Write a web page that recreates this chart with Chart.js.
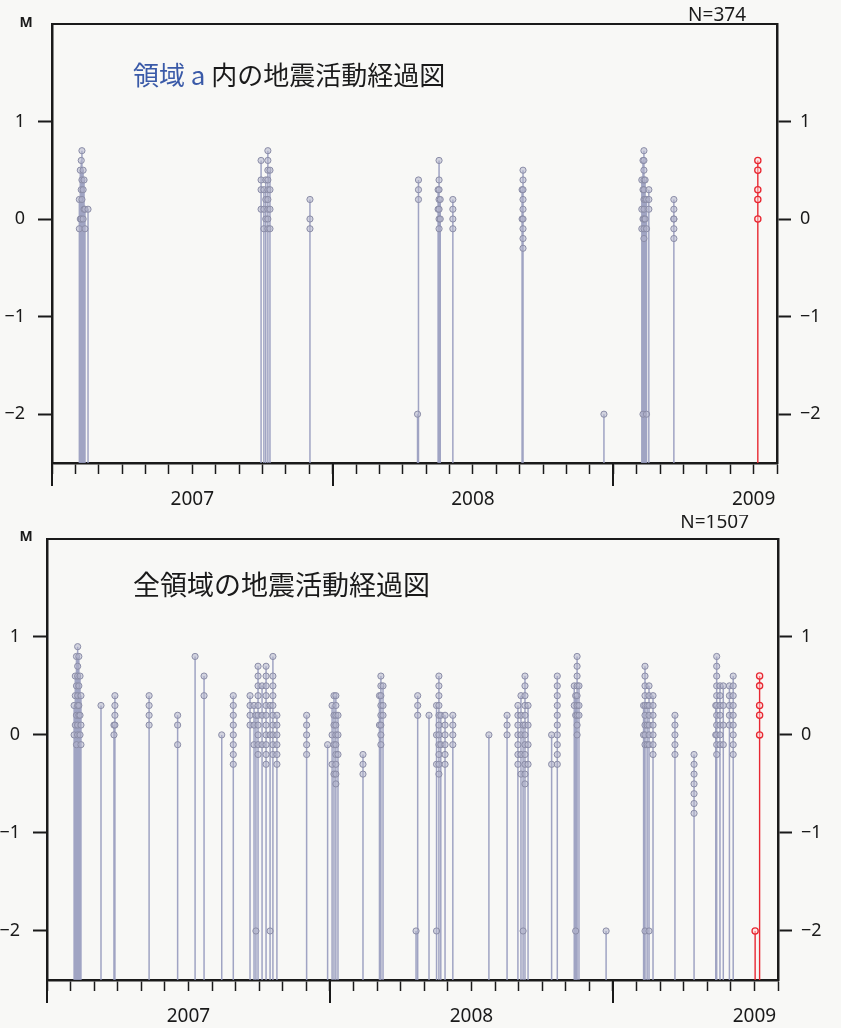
<!DOCTYPE html>
<html><head><meta charset="utf-8">
<script src="https://cdn.jsdelivr.net/npm/chart.js@4.4.0/dist/chart.umd.min.js"></script>
<style>
html,body{margin:0;padding:0;background:#f8f8f6;}
canvas{display:block;}
</style></head>
<body>
<canvas id="c1" width="841" height="515"></canvas>
<canvas id="c2" width="841" height="513"></canvas>
<script>
// x unit: months elapsed since 2007-01-01
const monthTicks = Array.from({length: 32}, (_, i) => i);
const yearStarts = [0, 12, 24];
const yearMid = [6, 18, 30];
const yearLabels = ['2007', '2008', '2009'];
const magTicks = [-2, -1, 0, 1];
const M_MIN = -2.5, M_MAX = 2;

// Panel 1: 領域 a (each stem time with the magnitudes of events drawn on it)
const topTimes = [1.17, 1.21, 1.25, 1.28, 1.33, 1.37, 1.41, 1.54,
  8.94, 9.06, 9.14, 9.23, 9.32, 11.03, 15.63, 15.67,
  16.51, 16.55, 16.60, 17.14, 20.10, 20.14, 23.60,
  25.22, 25.27, 25.31, 25.36, 25.42, 25.52, 26.59];
const topMags = [[0.2, -0.1], [0.5, 0.0], [0.6, 0.3, 0.0], [0.7, 0.4, 0.2], [0.5, 0.3, 0.0], [0.4, 0.1], [0.1, -0.1], [0.1],
  [0.6, 0.4, 0.3, 0.1], [0.3, 0.1, -0.1], [0.4, 0.2, 0.0], [0.7, 0.6, 0.5, 0.4, 0.3, 0.2, 0.1, 0.0, -0.1], [0.5, 0.3, 0.1, -0.1],
  [0.2, 0.0, -0.1], [-2.0], [0.4, 0.3, 0.2],
  [0.3, 0.1], [0.6, 0.4, 0.3, 0.2, 0.1, 0.0, -0.1], [0.2, 0.0], [0.2, 0.1, 0.0, -0.1],
  [0.3, 0.0], [0.5, 0.4, 0.3, 0.2, 0.1, 0.0, -0.1, -0.2, -0.3], [-2.0],
  [0.4, 0.1, -0.1], [0.6, 0.3, 0.0, -2.0], [0.7, 0.6, 0.5, 0.4, 0.3, 0.2, 0.1, 0.0, -0.1, -0.2], [0.4, 0.2, 0.0],
  [0.2, -0.1, -2.0], [0.3, 0.2, 0.1], [0.2, 0.1, 0.0, 0.0, -0.1, -0.2]];
const topRecentTimes = [30.18];
const topRecentMags = [[0.6, 0.5, 0.3, 0.2, 0.0]];

// Panel 2: 全領域
const allTimes = [1.15, 1.20, 1.25, 1.30, 1.35, 1.40, 1.44, 2.29, 2.84, 2.88, 4.33, 5.54, 6.28, 6.66, 7.41, 7.90, 8.61,
  8.78, 8.86, 8.95, 9.12, 9.29, 9.46, 9.58, 9.75, 11.01, 11.90, 12.09, 12.17, 12.25, 12.34, 13.40,
  14.10, 14.16, 14.25, 15.65, 15.72, 16.20, 16.52, 16.62, 16.70, 16.88, 17.21, 18.74, 19.51,
  19.97, 20.10, 20.19, 20.27, 20.40, 21.40, 21.64, 22.36, 22.42, 22.48, 22.56, 23.71,
  25.30, 25.36, 25.45, 25.53, 25.70, 26.63, 27.44, 28.36, 28.40, 28.54, 28.68, 28.94, 29.10];
const allMags = [[0.3, 0.0], [0.6, 0.4, 0.1], [0.8, 0.5, 0.2, -0.1], [0.9, 0.7, 0.6, 0.4, 0.3, 0.1, 0.0], [0.8, 0.5, 0.3, 0.2],
  [0.6, 0.2, 0.0], [0.4, 0.1, -0.1], [0.3], [0.1, 0.0], [0.4, 0.3, 0.2, 0.1], [0.4, 0.3, 0.2, 0.1], [0.2, 0.1, -0.1],
  [0.8], [0.6, 0.4], [0.0], [0.4, 0.3, 0.2, 0.1, 0.0, -0.1, -0.2, -0.3], [0.4, 0.3, 0.2, 0.1],
  [0.3, 0.1, -0.1], [0.2, -2.0], [0.7, 0.6, 0.5, 0.4, 0.3, 0.2, 0.1, 0.0, -0.1, -0.2], [0.5, 0.2, -0.1],
  [0.7, 0.6, 0.5, 0.4, 0.3, 0.2, 0.1, 0.0, -0.1, -0.2, -0.3], [0.3, 0.0, -2.0],
  [0.8, 0.6, 0.5, 0.4, 0.3, 0.2, 0.1, 0.0, -0.1, -0.2], [0.2, 0.1, 0.0, -0.1, -0.2, -0.3],
  [0.2, 0.1, 0.0, -0.1, -0.2], [-0.1], [0.3, 0.0, -0.3], [0.4, 0.2, 0.1, -0.1, -0.4],
  [0.4, 0.3, 0.2, 0.1, 0.0, -0.1, -0.2, -0.3, -0.4, -0.5], [0.2, 0.0, -0.2], [-0.2, -0.3, -0.4],
  [0.4, 0.1], [0.6, 0.5, 0.4, 0.3, 0.2, 0.1, 0.0, -0.1], [0.5, 0.3, 0.2], [-2.0], [0.4, 0.3, 0.2], [0.2],
  [0.3, 0.0, -0.3, -2.0], [0.6, 0.5, 0.4, 0.3, 0.2, 0.1, 0.0, -0.1, -0.2, -0.3, -0.4], [0.2, -0.1],
  [0.2, 0.1, 0.0, -0.1, -0.2, -0.3], [0.2, 0.1, 0.0, -0.1], [0.0], [0.2, 0.1, 0.0],
  [0.3, 0.2, 0.1, 0.0, -0.1, -0.2, -0.3], [0.4, 0.2, 0.0, -0.2, -0.4], [0.1, -2.0],
  [0.6, 0.5, 0.4, 0.3, 0.2, 0.1, 0.0, -0.1, -0.2, -0.3, -0.4, -0.5], [0.3, 0.1, -0.1, -0.3],
  [0.0, -0.3], [0.6, 0.5, 0.4, 0.3, 0.2, 0.1, 0.0, -0.1, -0.2, -0.3], [0.5, 0.3], [0.4, 0.2, -2.0],
  [0.8, 0.7, 0.6, 0.5, 0.4, 0.3, 0.2, 0.1, 0.0], [0.5, 0.3, 0.2], [-2.0],
  [0.3, 0.0], [0.7, 0.6, 0.5, 0.4, 0.3, 0.2, 0.1, 0.0, -0.1, -2.0], [0.3, 0.1, -0.1],
  [0.5, 0.4, 0.3, 0.2, 0.1, 0.0, -0.1, -2.0], [0.4, 0.3, 0.2, 0.1, 0.0, -0.1, -0.2],
  [0.2, 0.1, 0.0, -0.1, -0.2], [-0.2, -0.3, -0.4, -0.5, -0.6, -0.7, -0.8], [0.3, 0.0],
  [0.8, 0.7, 0.6, 0.5, 0.4, 0.3, 0.2, 0.1, 0.0, -0.1, -0.2], [0.5, 0.4, 0.3, 0.2, 0.1, 0.0, -0.1],
  [0.5, 0.3, 0.1, -0.1], [0.5, 0.4, 0.3, 0.2, 0.1], [0.6, 0.5, 0.4, 0.3, 0.2, 0.1, 0.0, -0.1, -0.2]];
const allRecentTimes = [30.03, 30.22];
const allRecentMags = [[-2.0], [0.6, 0.5, 0.3, 0.2, 0.0]];

const GREY_STEM = 'rgba(150,154,190,0.9)';
const GREY_DOT = 'rgb(138,140,166)';
const GREY_FILL = 'rgba(178,180,204,0.55)';
const RED = 'rgb(232,40,50)';
const RED_FILL = 'rgba(255,215,215,0.5)';
const INK = '#1a1a1a';
const TICK_FONT = {family: '"Noto Sans", "DejaVu Sans", sans-serif', size: 18};

function stemData(times, mags) {
  const d = [];
  times.forEach((t, i) => {
    d.push({x: t, y: M_MIN}, {x: t, y: Math.max(...mags[i])}, {x: t, y: null});
  });
  return d;
}
function dotData(times, mags) {
  const d = [];
  times.forEach((t, i) => mags[i].forEach(m => d.push({x: t, y: m})));
  return d;
}

const textPlugin = {
  id: 'panelText',
  afterDraw(chart, args, o) {
    const ctx = chart.ctx;
    const x = chart.scales.x;
    ctx.save();
    // long year ticks
    ctx.strokeStyle = INK; ctx.lineWidth = 2;
    yearStarts.forEach(v => {
      const px = Math.round(x.getPixelForValue(v));
      ctx.beginPath(); ctx.moveTo(px, x.top); ctx.lineTo(px, x.top + 23); ctx.stroke();
    });
    ctx.fillStyle = INK;
    ctx.textBaseline = 'middle';
    ctx.font = 'bold 14px "Noto Sans", sans-serif';
    ctx.textAlign = 'center';
    ctx.fillText('M', o.mX, o.mY);
    ctx.font = '19px "Noto Sans", sans-serif';
    ctx.textAlign = 'right';
    ctx.fillText(o.count, o.nX, o.nY);
    ctx.textAlign = 'left';
    ctx.font = o.tSize + 'px "Noto Sans CJK JP", sans-serif';
    let cx = o.tX;
    o.title.forEach(seg => {
      ctx.fillStyle = seg.color;
      ctx.fillText(seg.text, cx, o.tY);
      cx += ctx.measureText(seg.text).width;
    });
    ctx.restore();
  }
};

function makeChart(id, times, mags, rTimes, rMags, geo, text) {
  return new Chart(document.getElementById(id), {
    data: {
      datasets: [
        {type: 'scatter', data: stemData(times, mags), showLine: true, spanGaps: false, borderColor: GREY_STEM, borderWidth: 1.5, pointRadius: 0, order: 4},
        {type: 'scatter', data: dotData(times, mags), pointRadius: 3.1, borderWidth: 1, borderColor: GREY_DOT, backgroundColor: GREY_FILL, order: 3},
        {type: 'scatter', data: stemData(rTimes, rMags), showLine: true, spanGaps: false, borderColor: RED, borderWidth: 1.4, pointRadius: 0, order: 2},
        {type: 'scatter', data: dotData(rTimes, rMags), pointRadius: 3.1, borderWidth: 1.3, borderColor: RED, backgroundColor: RED_FILL, order: 1}
      ]
    },
    options: {
      responsive: false, animation: false, devicePixelRatio: 1,
      layout: {padding: 0},
      plugins: {legend: {display: false}, tooltip: {enabled: false}, panelText: text},
      scales: {
        x: {
          type: 'linear', position: 'bottom', min: 0, max: 31,
          afterBuildTicks: s => { s.ticks = monthTicks.map(v => ({value: v})); },
          ticks: {autoSkip: false, maxRotation: 0, padding: 14, color: INK, font: {family: TICK_FONT.family, size: 19},
            callback: v => { const i = yearMid.indexOf(v); return i >= 0 ? yearLabels[i] : ''; }},
          grid: {drawOnChartArea: false, drawTicks: true, tickLength: 11, tickColor: INK, tickWidth: 1.5},
          border: {display: true, color: INK, width: 2.5},
          afterFit: s => { s.height = geo.bottomH; }
        },
        xTop: {
          type: 'linear', position: 'top', min: 0, max: 31,
          ticks: {display: false},
          grid: {display: true, drawOnChartArea: false, drawTicks: false},
          border: {display: true, color: INK, width: 2},
          afterFit: s => { s.height = geo.topH; }
        },
        y: {
          type: 'linear', position: 'left', min: M_MIN, max: M_MAX,
          afterBuildTicks: s => { s.ticks = magTicks.map(v => ({value: v})); },
          ticks: {padding: 13, color: INK, font: TICK_FONT, callback: v => v < 0 ? '\u2212' + Math.abs(v) : String(v)},
          grid: {drawOnChartArea: false, drawTicks: true, tickLength: 14, tickColor: INK, tickWidth: 2},
          border: {display: true, color: INK, width: 2.5},
          afterFit: s => { s.width = geo.leftW; }
        },
        y2: {
          type: 'linear', position: 'right', min: M_MIN, max: M_MAX,
          afterBuildTicks: s => { s.ticks = magTicks.map(v => ({value: v})); },
          ticks: {padding: 9, color: INK, font: TICK_FONT, callback: v => v < 0 ? '\u2212' + Math.abs(v) : String(v)},
          grid: {drawOnChartArea: false, drawTicks: true, tickLength: 14, tickColor: INK, tickWidth: 2},
          border: {display: true, color: INK, width: 2.5},
          afterFit: s => { s.width = geo.rightW; }
        }
      }
    },
    plugins: [textPlugin]
  });
}

makeChart('c1', topTimes, topMags, topRecentTimes, topRecentMags,
  {topH: 22, bottomH: 52, leftW: 52, rightW: 64},
  {mX: 26, mY: 23, count: 'N=374', nX: 746, nY: 16, tX: 133, tY: 75, tSize: 26,
   title: [{text: '領域 a', color: '#3a5aa8'}, {text: ' 内の地震活動経過図', color: INK}]});

makeChart('c2', allTimes, allMags, allRecentTimes, allRecentMags,
  {topH: 15, bottomH: 48, leftW: 47, rightW: 63},
  {mX: 26, mY: 22, count: 'N=1507', nX: 749, nY: 8, tX: 133, tY: 70, tSize: 27,
   title: [{text: '全領域の地震活動経過図', color: INK}]});
</script>
</body></html>
